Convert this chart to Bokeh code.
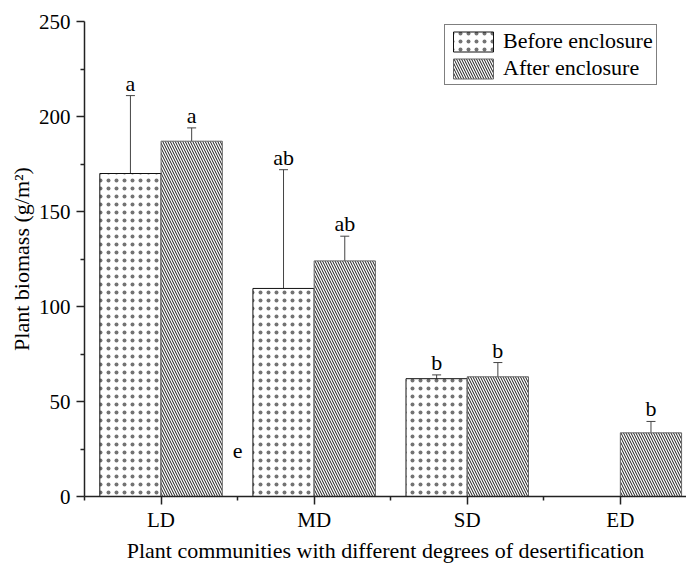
import numpy as np
from bokeh.plotting import figure
from bokeh.models import (ColumnDataSource, Whisker, TeeHead, FixedTicker, Legend,
                          LegendItem, Range1d)
from bokeh.core.properties import value
from bokeh.embed import file_html
from bokeh.resources import INLINE

# ---- data ----
categories = ["LD", "MD", "SD", "ED"]
before_mean = [170, 109.5, 62, np.nan]
before_err = [41, 62.5, 2, np.nan]
after_mean = [187, 124, 63, 33.5]
after_err = [7, 13, 7.5, 6]
before_letters = ["a", "ab", "b", ""]
after_letters = ["a", "ab", "b", "b"]
extra_label = "e"
extra_label_pos = (1.5, 24)
y_ticks = [0, 50, 100, 150, 200, 250]

FONT = "Liberation Serif"
idx = np.arange(1, len(categories) + 1)
bw = 0.4

def make_src(mean, err, letters, off):
    mean = np.array(mean, dtype=float)
    err = np.array(err, dtype=float)
    return ColumnDataSource(dict(
        x=idx + off, top=mean, upper=mean + err, lower=mean - err,
        lab=letters, ly=mean + err))

src_b = make_src(before_mean, before_err, before_letters, -bw / 2)
src_a = make_src(after_mean, after_err, after_letters, bw / 2)

p = figure(width=686, height=565, output_backend="svg", toolbar_location=None,
           min_border_left=84, min_border_right=0, min_border_top=21,
           min_border_bottom=68,
           x_range=Range1d(0.5, 0.5 + 602 / 153.1), y_range=Range1d(0, 250))
p.outline_line_color = None
p.xgrid.visible = False
p.ygrid.visible = False
p.background_fill_color = "white"
p.border_fill_color = "white"

rb = p.vbar(x="x", top="top", bottom=0, width=bw, source=src_b,
            fill_color="white", line_color="#111111", line_width=1,
            hatch_pattern=".", hatch_color="black", hatch_scale=8,
            hatch_weight=0.3, hatch_alpha=0.55)
ra = p.vbar(x="x", top="top", bottom=0, width=bw, source=src_a,
            fill_color="white", line_color="#666666", line_width=1,
            hatch_pattern="\\", hatch_color="black", hatch_scale=5, hatch_weight=0.9)

for src in (src_b, src_a):
    w = Whisker(base="x", upper="upper", lower="lower", source=src, dimension="height",
                line_color="#444444", line_width=1,
                upper_head=TeeHead(size=9, line_color="#444444", line_width=1),
                lower_head=TeeHead(size=9, line_color="#444444", line_width=1))
    p.add_layout(w)
    p.text(x="x", y="ly", text="lab", source=src, text_align="center",
           text_baseline="bottom", text_font=value(FONT),
           text_font_size="22px", text_color="black")

p.text(x=[extra_label_pos[0]], y=[extra_label_pos[1]], text=[extra_label],
       text_align="center", text_baseline="alphabetic", text_font=value(FONT),
       text_font_size="22px", text_color="black")

# axes
p.xaxis.ticker = FixedTicker(ticks=list(idx), minor_ticks=list(np.arange(0.5, 4.6, 1.0)))
p.xaxis.major_label_overrides = {int(i): c for i, c in zip(idx, categories)}
p.yaxis.ticker = FixedTicker(ticks=y_ticks, minor_ticks=list(np.arange(25, 250, 50)))
p.xaxis.axis_label = "Plant communities with different degrees of desertification"
p.yaxis.axis_label = "Plant biomass (g/m²)"
for ax in (p.xaxis, p.yaxis):
    ax.axis_line_color = "#222222"
    ax.axis_line_width = 1.5
    ax.major_tick_line_color = "#222222"
    ax.minor_tick_line_color = "#222222"
    ax.major_tick_line_width = 1.5
    ax.minor_tick_line_width = 1.5
    ax.major_tick_out = 8
    ax.major_tick_in = 0
    ax.minor_tick_out = 4
    ax.minor_tick_in = 0
    ax.major_label_text_font = FONT
    ax.major_label_text_font_size = "21px"
    ax.major_label_text_color = "black"
    ax.axis_label_text_font = FONT
    ax.axis_label_text_font_size = "22px"
    ax.axis_label_text_font_style = "normal"
    ax.axis_label_text_color = "black"
p.xaxis.major_label_standoff = 3
p.xaxis.axis_label_standoff = 3
p.yaxis.major_label_standoff = 6
p.yaxis.axis_label_standoff = 2

legend = Legend(items=[LegendItem(label="Before enclosure", renderers=[rb]),
                       LegendItem(label="After enclosure", renderers=[ra])],
                location=(360, 411))
legend.label_text_font = FONT
legend.label_text_font_size = "22px"
legend.label_text_color = "black"
legend.glyph_width = 50
legend.glyph_height = 25
legend.label_height = 25
legend.spacing = 1
legend.padding = 3
legend.margin = 0
legend.label_standoff = 5
legend.border_line_color = "black"
legend.border_line_width = 1
legend.background_fill_alpha = 1
p.add_layout(legend, "center")

open("out.html", "w").write(file_html(p, INLINE))
